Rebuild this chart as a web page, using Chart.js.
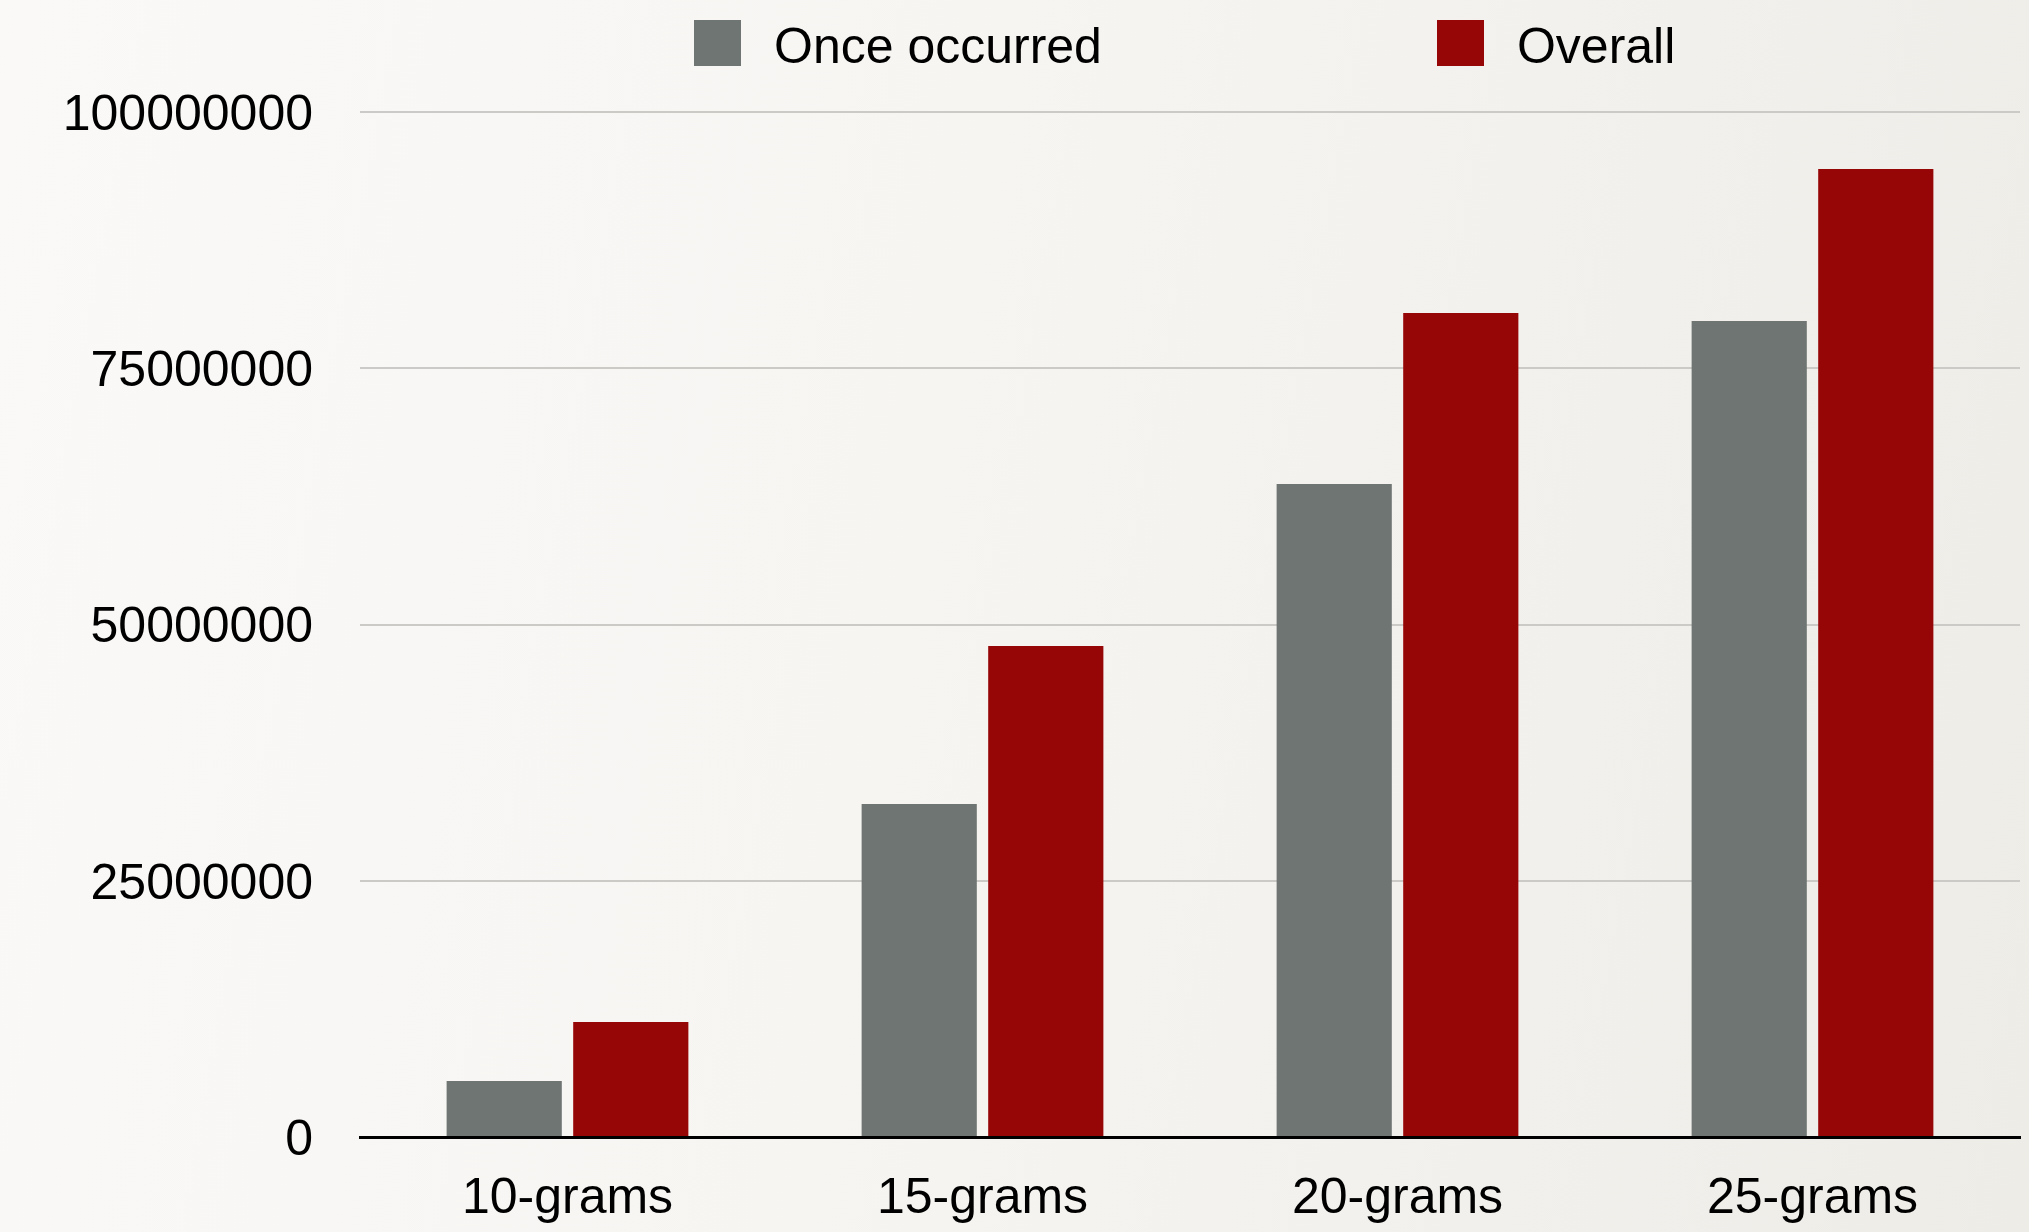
<!DOCTYPE html>
<html>
<head>
<meta charset="utf-8">
<script src="https://cdn.jsdelivr.net/npm/chart.js@4.4.1/dist/chart.umd.min.js"></script>
<style>
  html, body { margin: 0; padding: 0; }
  body {
    width: 2029px; height: 1232px; overflow: hidden; position: relative;
    background: linear-gradient(100deg, #faf9f8 0%, #f6f5f2 45%, #eeece7 100%);
    font-family: "Liberation Sans", Arial, Helvetica, sans-serif;
  }
  #wrap { position: absolute; left: 0; top: 0; width: 2029px; height: 1232px; }
  #legend {
    position: absolute; left: 694px; top: 20px; height: 46px;
    display: flex; gap: 335px; align-items: center;
  }
  .item { display: flex; align-items: center; gap: 33px; height: 46px; }
  .box { width: 47px; height: 46px; }
  .label { font-size: 50px; color: #000; line-height: 46px; position: relative; top: 3px; }
</style>
</head>
<body>
<div id="wrap"><canvas id="ngramChart"></canvas></div>
<div id="legend"></div>
<script>
// n-gram 종류
const categories = ['10-grams', '15-grams', '20-grams', '25-grams'];

// 한 번만 등장한 n-gram 수
const onceOccurred = [5460000, 32490000, 63710000, 79610000];
// 전체 n-gram 수
const overall = [11220000, 47900000, 80390000, 94440000];

// y축 눈금
const yTicks = [0, 25000000, 50000000, 75000000, 100000000];

const seriesNames = ['Once occurred', 'Overall'];
const seriesColors = ['#6f7572', '#970606'];

const fontFamily = '"Liberation Sans", Arial, Helvetica, sans-serif';

const ctx = document.getElementById('ngramChart').getContext('2d');
const ngramChart = new Chart(ctx, {
    type: 'bar',
    data: {
        labels: categories,
        datasets: [{
            label: seriesNames[0],
            data: onceOccurred,
            backgroundColor: seriesColors[0],
            borderWidth: 0
        }, {
            label: seriesNames[1],
            data: overall,
            backgroundColor: seriesColors[1],
            borderWidth: 0
        }]
    },
    options: {
        responsive: true,
        maintainAspectRatio: false,
        animation: false,
        datasets: {
            bar: { categoryPercentage: 0.61, barPercentage: 0.91 }
        },
        layout: {
            padding: { top: 112, right: 9, bottom: 0, left: 0 }
        },
        plugins: {
            legend: { display: false },
            tooltip: { enabled: false }
        },
        scales: {
            x: {
                grid: { display: false, drawTicks: false },
                border: { color: '#000', width: 3 },
                ticks: {
                    color: '#000',
                    padding: 32,
                    font: { family: fontFamily, size: 50 }
                },
                afterFit: s => { s.height = 95; }
            },
            y: {
                min: 0,
                max: 100000000,
                afterBuildTicks: s => { s.ticks = yTicks.map(v => ({ value: v })); },
                grid: { color: '#cbcac7', lineWidth: 2, drawTicks: false },
                border: { display: false },
                ticks: {
                    color: '#000',
                    padding: 47,
                    labelOffset: 4,
                    font: { family: fontFamily, size: 50 },
                    callback: v => String(v)
                },
                afterFit: s => { s.width = 360; }
            }
        }
    }
});

// 범례 (데이터셋 색상으로 생성)
const legendEl = document.getElementById('legend');
ngramChart.data.datasets.forEach(ds => {
    const item = document.createElement('div');
    item.className = 'item';
    const box = document.createElement('div');
    box.className = 'box';
    box.style.background = ds.backgroundColor;
    const label = document.createElement('span');
    label.className = 'label';
    label.textContent = ds.label;
    item.appendChild(box);
    item.appendChild(label);
    legendEl.appendChild(item);
});
</script>
</body>
</html>
